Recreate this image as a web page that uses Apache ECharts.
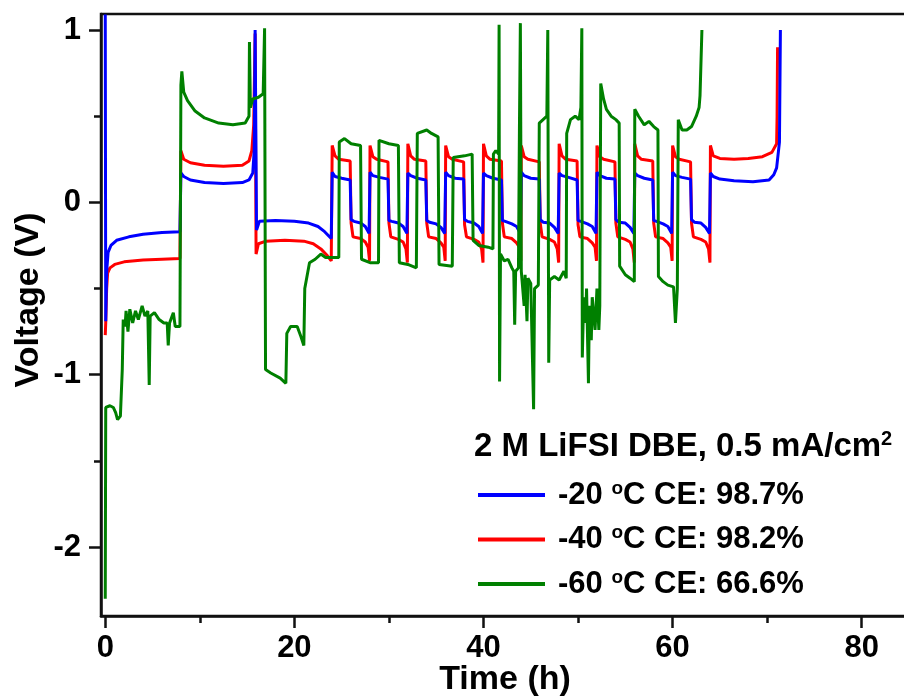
<!DOCTYPE html>
<html>
<head>
<meta charset="utf-8">
<script src="https://cdn.jsdelivr.net/npm/echarts@6/dist/echarts.min.js"></script>
<style>html,body{margin:0;padding:0;background:#fff}#c{width:904px;height:698px}</style>
</head>
<body>
<div id="c"></div>
<script>
// ---- data (time in h, voltage in V) ----
const blueTime = [0,0.05,0.15,0.3,0.6,1.2,2.5,4,6,7.9,
  8.0,8.3,9,10.5,12.5,14.5,15.2,15.6,15.75,15.85,
  16.0,16.3,18,20,21.5,22.5,23.2,23.9,
  24.0,24.3,25,25.9,26.0,26.3,27,27.5,27.9,
  28.0,28.3,29,29.9,30.0,30.3,31,31.5,31.9,
  32.0,32.3,33,33.9,34.0,34.3,35,35.5,35.9,
  36.0,36.3,37,37.9,38.0,38.3,39,39.5,39.9,
  40.0,40.3,41,41.9,42.0,42.3,43,43.5,43.9,
  44.0,44.3,45,45.9,46.0,46.3,47,47.5,47.9,
  48.0,48.3,49,49.9,50.0,50.3,51,51.5,51.9,
  52.0,52.3,53,53.9,54.0,54.3,55,55.5,55.9,
  56.0,56.3,57,57.9,58.0,58.3,59,59.5,59.9,
  60.0,60.3,61,61.9,62.0,62.3,63,63.5,63.9,
  64.0,64.3,65,66.5,68.5,70.2,70.7,71.0,71.3,71.4];
const blueVolt = [1.09,-0.69,-0.4,-0.29,-0.25,-0.22,-0.2,-0.185,-0.175,-0.17,
  0.17,0.15,0.13,0.115,0.11,0.115,0.13,0.17,0.3,1.0,
  -0.16,-0.11,-0.105,-0.11,-0.12,-0.14,-0.17,-0.21,
  0.175,0.15,0.14,0.13,-0.1,-0.11,-0.12,-0.14,-0.18,
  0.175,0.155,0.145,0.135,-0.105,-0.11,-0.12,-0.14,-0.18,
  0.17,0.155,0.14,0.13,-0.105,-0.115,-0.125,-0.145,-0.18,
  0.175,0.155,0.14,0.135,-0.1,-0.11,-0.12,-0.14,-0.18,
  0.17,0.155,0.14,0.13,-0.105,-0.11,-0.125,-0.14,-0.18,
  0.175,0.155,0.14,0.135,-0.1,-0.115,-0.12,-0.145,-0.18,
  0.17,0.155,0.145,0.13,-0.105,-0.11,-0.125,-0.14,-0.18,
  0.175,0.155,0.14,0.135,-0.1,-0.115,-0.12,-0.145,-0.18,
  0.17,0.155,0.14,0.13,-0.105,-0.11,-0.125,-0.14,-0.18,
  0.175,0.155,0.145,0.135,-0.1,-0.115,-0.12,-0.145,-0.18,
  0.17,0.15,0.135,0.125,0.12,0.13,0.16,0.2,0.35,1.0];

const redTime = [0,0.05,0.15,0.25,0.5,1,2,4,6,7.9,
  8.0,8.3,9,10.5,12.5,14.5,15.2,15.5,15.7,15.85,
  15.95,16.2,17,19,21,22,22.8,23.5,23.9,
  24.0,24.3,24.7,25.9,26.0,26.2,27,27.5,27.8,27.95,
  28.0,28.3,28.7,29.9,30.0,30.2,31,31.5,31.8,31.95,
  32.0,32.3,32.7,33.9,34.0,34.2,35,35.5,35.8,35.95,
  36.0,36.3,36.7,37.9,38.0,38.2,39,39.5,39.8,39.95,
  40.0,40.3,40.7,41.9,42.0,42.2,43,43.5,43.8,43.95,
  44.0,44.3,44.7,45.9,46.0,46.2,47,47.5,47.8,47.95,
  48.0,48.3,48.7,49.9,50.0,50.2,51,51.5,51.8,51.95,
  52.0,52.3,52.7,53.9,54.0,54.2,55,55.5,55.8,55.95,
  56.0,56.3,56.7,57.9,58.0,58.2,59,59.5,59.8,59.95,
  60.0,60.3,60.7,61.9,62.0,62.2,63,63.5,63.8,63.95,
  64.0,64.3,65,66.5,68,69.5,70.5,71.0,71.05,71.1];
const redVolt = [-0.77,-0.7,-0.5,-0.41,-0.38,-0.36,-0.345,-0.335,-0.33,-0.325,
  0.3,0.25,0.23,0.215,0.21,0.215,0.24,0.3,0.45,0.98,
  -0.3,-0.24,-0.225,-0.22,-0.225,-0.24,-0.27,-0.31,-0.34,
  0.33,0.27,0.25,0.24,-0.12,-0.2,-0.21,-0.23,-0.26,-0.34,
  0.33,0.265,0.25,0.235,-0.12,-0.2,-0.215,-0.23,-0.27,-0.35,
  0.34,0.27,0.25,0.24,-0.12,-0.2,-0.21,-0.235,-0.26,-0.34,
  0.33,0.265,0.25,0.235,-0.13,-0.2,-0.215,-0.23,-0.27,-0.35,
  0.34,0.27,0.25,0.24,-0.12,-0.2,-0.21,-0.235,-0.26,-0.34,
  0.33,0.265,0.25,0.235,-0.12,-0.2,-0.215,-0.23,-0.27,-0.35,
  0.34,0.27,0.25,0.24,-0.13,-0.2,-0.21,-0.235,-0.26,-0.34,
  0.33,0.265,0.25,0.235,-0.12,-0.2,-0.215,-0.23,-0.27,-0.35,
  0.34,0.27,0.25,0.24,-0.12,-0.2,-0.21,-0.235,-0.26,-0.34,
  0.33,0.265,0.25,0.235,-0.12,-0.2,-0.215,-0.23,-0.27,-0.35,
  0.33,0.27,0.255,0.25,0.255,0.265,0.29,0.34,0.5,0.9];

const greenTime = [0,0.05,0.5,0.85,1.1,1.3,1.6,1.8,1.9,2.1,2.2,2.4,2.6,2.9,3.2,3.5,3.9,4.2,4.5,4.65,4.75,5.2,5.7,6.2,6.55,6.66,6.8,7.2,7.4,7.9,
  8.0,8.1,8.3,8.7,9.5,10.5,12,13.5,14.8,15.2,15.25,15.35,15.6,16.2,16.7,16.85,16.95,17.5,18.5,19.1,19.2,19.6,20.3,20.7,21.0,21.1,21.6,22.2,22.8,23.3,24.0,24.7,
  24.75,25.3,26,27.0,27.1,28,28.9,
  28.95,30,31.0,31.1,32,32.9,
  33.0,34,34.5,35.2,35.3,36.7,
  36.8,38,38.8,38.9,39.5,40.5,41.0,
  41.05,41.3,41.6,41.65,41.7,41.8,42.2,42.6,43.0,43.2,43.3,43.4,43.7,43.8,43.9,44.0,44.3,44.4,44.6,44.7,45.0,45.3,45.4,45.8,
  45.9,46.3,46.7,46.8,46.9,47.0,47.5,48.0,48.5,48.75,
  48.8,49.2,49.7,50.1,50.3,50.4,50.45,50.6,50.8,50.9,51.1,51.2,51.4,51.5,51.8,52.0,52.2,52.3,
  52.4,52.7,53.0,53.5,54.0,54.35,54.4,55,55.5,55.95,
  56.0,56.4,57,57.5,58.0,58.45,58.5,59,59.5,60.1,60.3,60.5,
  60.6,61,61.5,62,62.5,62.8,62.9,63.1];
const greenVolt = [-2.3,-1.19,-1.18,-1.19,-1.22,-1.26,-1.24,-0.97,-0.68,-0.72,-0.63,-0.75,-0.62,-0.7,-0.63,-0.68,-0.6,-0.66,-0.63,-1.06,-0.66,-0.64,-0.68,-0.7,-0.7,-0.83,-0.7,-0.64,-0.72,-0.72,
  0.68,0.76,0.64,0.59,0.53,0.49,0.46,0.45,0.46,0.5,0.93,0.55,0.6,0.61,0.63,1.01,-0.97,-0.99,-1.02,-1.05,-0.76,-0.72,-0.72,-0.78,-0.83,-0.5,-0.35,-0.33,-0.3,-0.32,-0.32,-0.32,
  0.35,0.37,0.34,0.33,-0.33,-0.35,-0.35,
  0.36,0.34,0.33,-0.35,-0.36,-0.38,
  0.4,0.42,0.4,0.38,-0.36,-0.37,
  0.26,0.27,0.28,-0.22,-0.25,-0.26,-0.27,
  0.28,0.3,0.28,1.03,-1.04,-0.3,-0.34,-0.33,-0.38,-0.4,-0.71,-0.4,-0.38,0.42,1.04,-0.4,-0.6,-0.42,-0.69,-0.44,-0.47,-1.2,-0.5,-0.48,
  0.46,0.48,0.5,1.0,-0.93,-0.45,-0.43,-0.45,-0.4,-0.44,
  0.4,0.48,0.5,0.48,0.55,1.01,-0.9,-0.55,-0.7,-0.5,-1.05,-0.6,-0.8,-0.55,-0.74,-0.5,-0.74,-0.6,
  0.69,0.6,0.54,0.5,0.48,0.46,-0.37,-0.42,-0.44,-0.46,
  0.54,0.5,0.45,0.47,0.44,0.42,-0.43,-0.46,-0.48,-0.49,-0.7,-0.5,
  0.48,0.42,0.42,0.44,0.5,0.55,0.62,1.0];

const xMajorTicks = [0, 20, 40, 60, 80];
const xMinorTicks = [10, 30, 50, 70];
const yMajorTicks = [-2, -1, 0, 1];
const yMinorTicks = [-1.5, -0.5, 0.5];
const seriesNames = ['-20 °C CE: 98.7%', '-40 °C CE: 98.2%', '-60 °C CE: 66.6%'];
const legendTemps = ['-20', '-40', '-60'];
const legendCE = ['98.7%', '98.2%', '66.6%'];
const legendTitle = '2 M LiFSI DBE, 0.5 mA/cm';

const zip = (t, v) => t.map((x, i) => [x, v[i]]);
const FONT = '"Liberation Sans", Arial, sans-serif';
const X_MIN = -0.45, X_MAX = 85, Y_MIN = -2.4, Y_MAX = 1.093;
const axisCol = '#111';

const chart = echarts.init(document.getElementById('c'), null, {renderer: 'canvas'});
const option = {
  backgroundColor: '#fff',
  animation: false,
  textStyle: {fontFamily: FONT},
  grid: {left: 101, right: -5, top: 14, bottom: 82, containLabel: false, outerBoundsMode: 'none',
    show: true, borderColor: axisCol, borderWidth: 2.5, backgroundColor: 'transparent'},
  title: {
    text: legendTitle + '{s|2}',
    left: 469, top: 424,
    textStyle: {fontFamily: FONT, fontSize: 33, fontWeight: 'bold', color: '#000',
      rich: {s: {fontFamily: FONT, fontSize: 20, fontWeight: 'bold', color: '#000', verticalAlign: 'top', lineHeight: 36}}}
  },
  legend: {
    data: [seriesNames[0], seriesNames[1], seriesNames[2]],
    orient: 'vertical', left: 473, top: 474,
    itemWidth: 67, itemHeight: 4, itemGap: 13,
    icon: 'rect',
    formatter: function (name) {
      const i = seriesNames.indexOf(name);
      return '{g| }{n|' + legendTemps[i] + ' }{s|o}{n|C CE: ' + legendCE[i] + '}';
    },
    textStyle: {fontFamily: FONT, fontSize: 31, fontWeight: 'bold', color: '#000',
      rich: {
        g: {width: 8, fontSize: 31, lineHeight: 32},
        n: {fontFamily: FONT, fontSize: 31, fontWeight: 'bold', color: '#000', lineHeight: 32},
        s: {fontFamily: FONT, fontSize: 19, fontWeight: 'bold', color: '#000', verticalAlign: 'top', lineHeight: 32}
      }}
  },
  xAxis: [{
    type: 'value', min: X_MIN, max: X_MAX, position: 'bottom',
    name: 'Time (h)', nameLocation: 'middle', nameGap: 47, nameMoveOverlap: false,
    nameTextStyle: {fontFamily: FONT, fontSize: 34, fontWeight: 'bold', color: '#000'},
    axisLine: {show: true, onZero: false, lineStyle: {color: axisCol, width: 2.5}},
    axisTick: {show: true, inside: false, length: 12, customValues: xMajorTicks, lineStyle: {color: axisCol, width: 2.5}},
    axisLabel: {show: true, customValues: xMajorTicks, margin: 17, fontFamily: FONT, fontSize: 31, fontWeight: 'bold', color: '#000'},
    splitLine: {show: false}
  }, {
    type: 'value', min: X_MIN, max: X_MAX, position: 'bottom',
    axisLine: {show: false, onZero: false},
    axisTick: {show: true, length: 7, customValues: xMinorTicks, lineStyle: {color: axisCol, width: 2.5}},
    axisLabel: {show: false},
    splitLine: {show: false}
  }],
  yAxis: [{
    type: 'value', min: Y_MIN, max: Y_MAX, position: 'left',
    name: 'Voltage (V)', nameLocation: 'middle', nameGap: 55, nameRotate: 90, nameMoveOverlap: false,
    nameTextStyle: {fontFamily: FONT, fontSize: 34, fontWeight: 'bold', color: '#000', padding: [0, 0, 0, 30]},
    axisLine: {show: true, onZero: false, lineStyle: {color: axisCol, width: 2.5}},
    axisTick: {show: true, length: 12, customValues: yMajorTicks, lineStyle: {color: axisCol, width: 2.5}},
    axisLabel: {show: true, customValues: yMajorTicks, margin: 20, fontFamily: FONT, fontSize: 31, fontWeight: 'bold', color: '#000'},
    splitLine: {show: false}
  }, {
    type: 'value', min: Y_MIN, max: Y_MAX, position: 'left',
    axisLine: {show: false, onZero: false},
    axisTick: {show: true, length: 7, customValues: yMinorTicks, lineStyle: {color: axisCol, width: 2.5}},
    axisLabel: {show: false},
    splitLine: {show: false}
  }],
  series: [
    {name: seriesNames[1], type: 'line', xAxisIndex: 0, yAxisIndex: 0, data: zip(redTime, redVolt), showSymbol: false, symbol: 'none', z: 2,
      lineStyle: {color: '#ff0000', width: 3}, itemStyle: {color: '#ff0000'}},
    {name: seriesNames[0], type: 'line', xAxisIndex: 0, yAxisIndex: 0, data: zip(blueTime, blueVolt), showSymbol: false, symbol: 'none', z: 3,
      lineStyle: {color: '#0000ff', width: 3}, itemStyle: {color: '#0000ff'}},
    {name: seriesNames[2], type: 'line', xAxisIndex: 0, yAxisIndex: 0, data: zip(greenTime, greenVolt), showSymbol: false, symbol: 'none', z: 4,
      lineStyle: {color: '#008000', width: 3}, itemStyle: {color: '#008000'}}
  ]
};
chart.setOption(option);
</script>
</body>
</html>
